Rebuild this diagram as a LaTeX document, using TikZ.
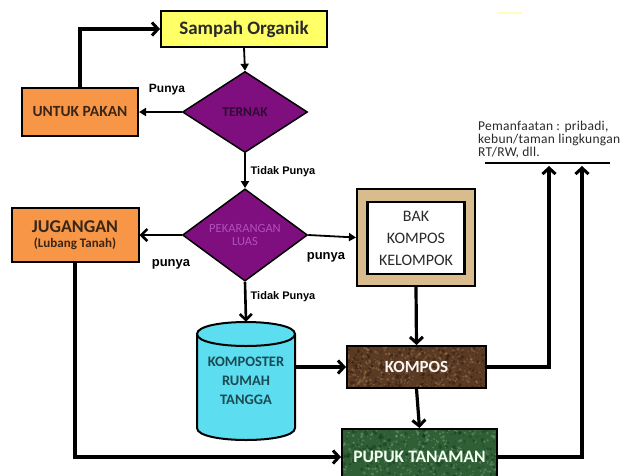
\documentclass[tikz,border=0pt]{standalone}
\usepackage{fontspec}
\setmainfont{Carlito}
\newfontfamily\arialf{Liberation Sans}
\usetikzlibrary{arrows.meta,shapes.geometric}

\definecolor{yellowbox}{HTML}{FFFF66}
\definecolor{orangebox}{HTML}{F79646}
\definecolor{purplebox}{HTML}{7F0F7F}
\definecolor{ternaktext}{HTML}{2E0A34}
\definecolor{pektext}{HTML}{B050B8}
\definecolor{woodbox}{HTML}{D9BC8E}
\definecolor{cylfill}{HTML}{5CDDF0}
\definecolor{cyltext}{HTML}{1B4A52}
\definecolor{komposbase}{HTML}{5A3A22}
\definecolor{komposlight}{HTML}{9A7A58}
\definecolor{komposdark}{HTML}{2E1C10}
\definecolor{pupukbase}{HTML}{2F5F35}
\definecolor{pupuklight}{HTML}{7FA07F}
\definecolor{pupukdark}{HTML}{163A1C}
\definecolor{darktext}{HTML}{2A2A2A}
\definecolor{orangetext}{HTML}{3A2616}

\tikzset{
  box/.style={draw=black, line width=2pt, inner sep=0pt, align=center},
  thinarrow/.style={line width=1.8pt, -{Triangle[length=7pt,width=8pt]}},
  thickarrow/.style={line width=3.2pt, -{Straight Barb[length=6pt,width=13pt,line width=3pt]}},
  midarrow/.style={line width=2.6pt, -{Straight Barb[length=6pt,width=12pt,line width=2.6pt]}},
  lbl/.style={font=\arialf\bfseries\fontsize{12}{12}\selectfont, inner sep=0pt},
  smalllbl/.style={font=\arialf\bfseries\fontsize{11}{11}\selectfont, inner sep=0pt},
}

% mottled fill of a rectangle from (#1,#2) to (#3,#4): #5 base, #6 light, #7 dark
\newcommand\mottledrect[7]{%
  \begin{scope}
    \clip (#1,#2) rectangle (#3,#4);
    \fill[#5] (#1,#2) rectangle (#3,#4);
    \foreach \i in {1,...,380}{
      \pgfmathsetmacro\px{#1+(#3-#1)*rnd}
      \pgfmathsetmacro\py{#2+(#4-#2)*rnd}
      \pgfmathsetmacro\pr{0.4+1.3*rnd}
      \fill[#6, opacity=0.45] (\px,\py) circle (\pr pt);
    }
    \foreach \i in {1,...,260}{
      \pgfmathsetmacro\px{#1+(#3-#1)*rnd}
      \pgfmathsetmacro\py{#2+(#4-#2)*rnd}
      \pgfmathsetmacro\pr{0.5+1.6*rnd}
      \fill[#7, opacity=0.5] (\px,\py) circle (\pr pt);
    }
  \end{scope}}

\begin{document}
\begin{tikzpicture}[x=1pt,y=-1pt]
\pgfmathsetseed{7}
\useasboundingbox[fill=white] (0,0) rectangle (622,475);

% faint mark at the top right
\draw[line width=1.5pt, color=yellow!25] (497,13) coordinate (ya) -- (522,13) coordinate (yb);

% --- boxes ---
\node[box, fill=yellowbox, minimum width=166pt, minimum height=36pt,
      font=\bfseries\fontsize{19}{19}\selectfont, text=darktext]
      (so) at (244,29) {Sampah Organik};

\node[box, fill=orangebox, minimum width=116pt, minimum height=48pt,
      font=\bfseries\fontsize{15.5}{15.5}\selectfont, text=orangetext]
      (pakan) at (80,112) {UNTUK PAKAN};

\node[diamond, draw=black, line width=1.5pt, fill=purplebox, inner sep=0pt,
      minimum width=125pt, minimum height=81pt,
      font=\bfseries\fontsize{13.5}{13.5}\selectfont, text=ternaktext]
      (ternak) at (245,112) {TERNAK};

\node[diamond, draw=black, line width=1.5pt, fill=purplebox, inner sep=0pt,
      minimum width=125pt, minimum height=88pt, align=center,
      font=\fontsize{12.5}{12.5}\selectfont, text=pektext]
      (pek) at (245,235) {PEKARANGAN\\LUAS};

\node[box, fill=orangebox, minimum width=127pt, minimum height=54pt, text=orangetext]
      (jug) at (75,235) {{\bfseries\fontsize{18}{18}\selectfont JUGANGAN}\\[3pt]
      {\bfseries\fontsize{13}{13}\selectfont (Lubang Tanah)}};

% group compost bin: wooden frame with a white panel
\node[box, fill=woodbox, minimum width=118pt, minimum height=97pt] (bak) at (416,237.5) {};
\node[box, fill=white, line width=2.4pt, minimum width=97pt, minimum height=72pt,
      font=\fontsize{16}{22}\selectfont, text=darktext]
      (bakin) at (416,238) {BAK\\KOMPOS\\KELOMPOK};

% household composter drum
\fill[cylfill] (197,334) -- (197,428) .. controls (197,444) and (295,444) .. (295,428) -- (295,334) -- cycle;
\draw[line width=2pt] (197,334) -- (197,428) .. controls (197,444) and (295,444) .. (295,428) -- (295,334);
\draw[line width=2pt, fill=cylfill] (197,334) .. controls (197,318) and (295,318) .. (295,334)
      .. controls (295,350) and (197,350) .. (197,334) -- cycle;
\node[minimum width=98pt, minimum height=118pt, inner sep=0pt, align=center,
      font=\bfseries\fontsize{14.5}{19}\selectfont, text=cyltext]
      (kr) at (246,381) {KOMPOSTER\\RUMAH\\TANGGA};

% compost and fertiliser boxes with a soil-like texture
\mottledrect{347}{346}{486}{388}{komposbase}{komposlight}{komposdark}
\node[box, minimum width=139pt, minimum height=42pt,
      font=\bfseries\fontsize{17}{17}\selectfont, text=white!92!brown]
      (kompos) at (416.5,367) {KOMPOS};

\mottledrect{342}{429}{497}{485}{pupukbase}{pupuklight}{pupukdark}
\node[box, minimum width=155pt, minimum height=56pt,
      font=\bfseries\fontsize{17.5}{17.5}\selectfont, text=white!95!green]
      (pupuk) at (419.5,457) {PUPUK TANAMAN};

% --- connectors ---
\draw[thinarrow] (so.south) -- (ternak.north);
\draw[thinarrow] (ternak.west) -- (pakan.east);
\draw[thickarrow] (pakan.north) |- (so.west);
\draw[thinarrow] (ternak.south) -- (pek.north);
\draw[midarrow] (pek.west) -- (jug.east);
\draw[thinarrow] (pek.east) -- (bak.west);
\draw[midarrow] (pek.south) -- (kr.north);
\draw[thickarrow] (bak.south) -- (kompos.north);
\draw[thickarrow] (kr.east |- kompos.west) -- (kompos.west);
\draw[thickarrow] (kompos.south) -- (pupuk.north);
\draw[thickarrow] (jug.south) |- (pupuk.west);

% use of the finished compost
\coordinate (ul) at (485,163);
\coordinate (ur) at (610,163);
\coordinate (u1) at (549,166);
\coordinate (u2) at (582,166);
\draw[line width=2.2pt] (ul) -- (ur);
\draw[thickarrow] (kompos.east) -| (u1);
\draw[thickarrow] (pupuk.east) -| (u2);

% --- labels ---
\node[lbl] (lpunya) at (167,90) {Punya};
\node[smalllbl] (ltidak1) at (283,172) {Tidak Punya};
\node[smalllbl] (ltidak2) at (283,297) {Tidak Punya};
\node[lbl, font=\arialf\bfseries\fontsize{13}{13}\selectfont] (lpunyaL) at (171,264) {punya};
\node[lbl, font=\arialf\bfseries\fontsize{13}{13}\selectfont] (lpunyaR) at (326,257) {punya};

\node[anchor=north west, align=left, inner sep=0pt, text=darktext,
      font=\fontsize{13.5}{13}\selectfont\addfontfeatures{LetterSpace=2}]
      (note) at (478,121) {Pemanfaatan : pribadi,\\kebun/taman lingkungan\\RT/RW, dll.};
\end{tikzpicture}
\end{document}
